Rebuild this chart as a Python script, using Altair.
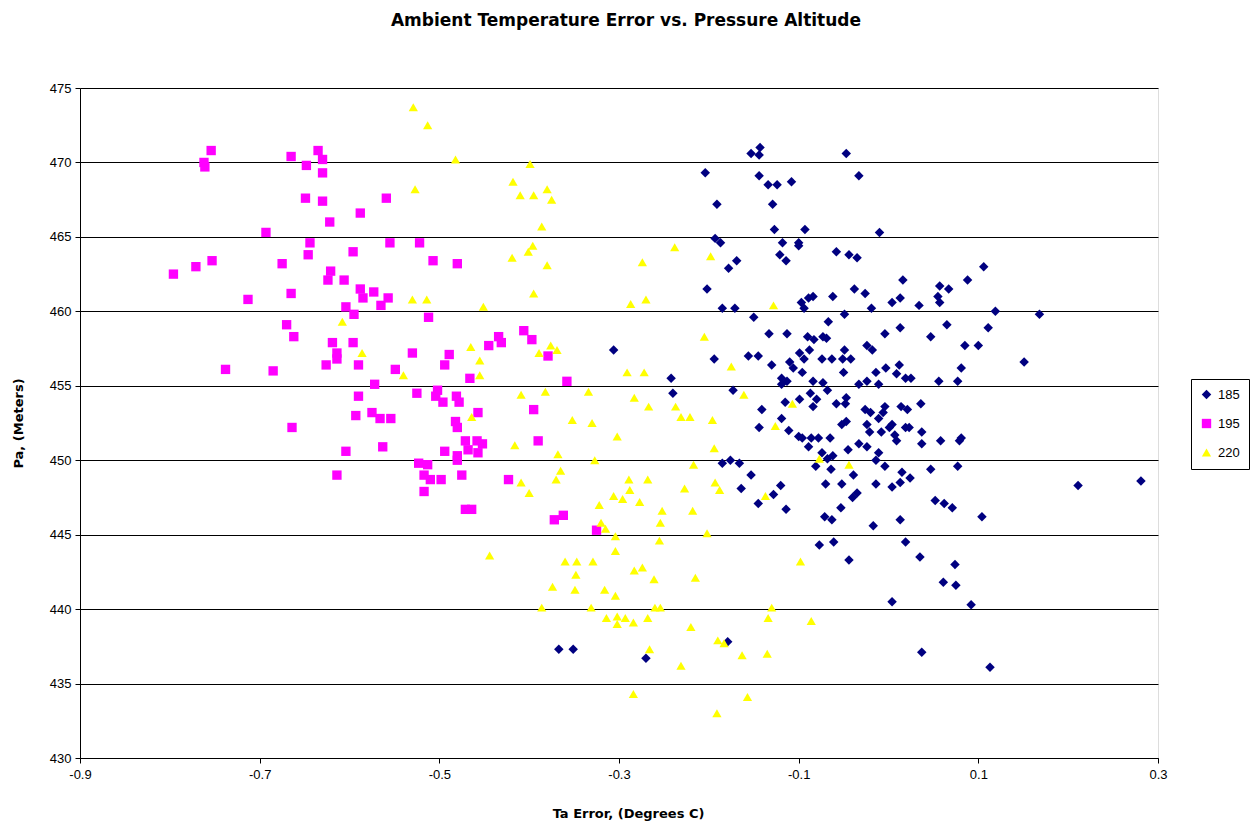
import altair as alt
import pandas as pd

# Series 185 (navy diamonds)
x185 = [-0.143, -0.153, -0.144, -0.047, -0.204, -0.144, -0.033, -0.134, -0.124, -0.108,
        -0.191, -0.129, -0.127, -0.093, -0.010, -0.193, -0.187, -0.118, -0.100, -0.100,
        -0.121, -0.114, -0.169, -0.178, -0.058, -0.044, -0.035, -0.202, -0.097, -0.089,
        -0.084, -0.062, -0.038, -0.026, -0.019, -0.185, -0.171, -0.094, 0.106, 0.016,
        0.088, 0.057, 0.067, 0.055, 0.057, 0.013, 0.004, 0.034, 0.119, 0.168,
        0.013, 0.065, 0.111, 0.047, 0.085, 0.100, 0.151, 0.012, 0.081, 0.009,
        0.019, 0.025, 0.056, 0.077, 0.036, 0.014, 0.021, 0.004, 0.019, 0.023,
        0.037, 0.007, 0.009, 0.037, 0.058, 0.081, 0.079, 0.077, 0.047, 0.015,
        0.024, 0.013, 0.004, 0.211, 0.281, 0.052, 0.062, 0.071, 0.013, 0.104,
        0.019, 0.035, 0.074, 0.061, 0.075, 0.004, 0.092, 0.037, 0.113, -0.077,
        -0.061, -0.044, -0.179, -0.270, -0.367, -0.351, -0.306, -0.150, -0.067, -0.049,
        -0.133, -0.113, -0.090, -0.083, -0.073, -0.069, -0.004, -0.024, -0.018, -0.049,
        -0.088, -0.099, -0.194, -0.156, -0.145, -0.130, -0.110, -0.106, -0.094, -0.074,
        -0.063, -0.051, -0.042, -0.096, -0.050, -0.014, -0.003, -0.242, -0.240, -0.119,
        -0.113, -0.119, -0.084, -0.073, -0.068, -0.033, -0.024, -0.011, -0.173, -0.087,
        -0.080, -0.084, -0.099, -0.115, -0.058, -0.047, -0.048, -0.026, -0.020, -0.004,
        -0.006, -0.011, -0.141, -0.119, -0.144, -0.111, -0.100, -0.096, -0.086, -0.078,
        -0.065, -0.089, -0.052, -0.047, -0.024, -0.021, -0.008, 0.001, -0.033, -0.024,
        -0.045, -0.074, -0.068, -0.062, -0.064, -0.081, -0.011, -0.014, -0.004, -0.039,
        -0.070, -0.052, -0.014, -0.035, -0.040, -0.053, -0.071, -0.063, -0.017, -0.185,
        -0.176, -0.166, -0.153, -0.164, -0.120, -0.128, -0.145, -0.114]
y185 = [471.0, 470.6, 470.5, 470.6, 469.3, 469.1, 469.1, 468.5, 468.5, 468.7,
        467.2, 467.2, 465.5, 465.5, 465.3, 464.9, 464.6, 464.6, 464.6, 464.4,
        463.8, 463.4, 463.4, 462.9, 464.0, 463.8, 463.6, 461.5, 460.6, 460.9,
        461.0, 461.0, 461.5, 461.2, 460.2, 460.2, 460.2, 460.2, 463.0, 462.1,
        462.1, 461.7, 461.5, 461.0, 460.6, 460.9, 460.6, 460.4, 460.0, 459.8,
        458.9, 459.1, 458.9, 458.3, 457.7, 457.7, 456.6, 456.4, 456.2, 455.8,
        455.5, 455.5, 455.3, 455.3, 453.8, 453.6, 453.4, 452.4, 452.2, 452.2,
        451.9, 451.7, 451.3, 451.1, 451.3, 451.5, 451.3, 449.6, 449.4, 449.2,
        448.8, 448.5, 448.2, 448.3, 448.6, 447.3, 447.1, 446.8, 446.0, 446.2,
        444.5, 443.5, 443.0, 441.8, 441.6, 440.5, 440.3, 437.1, 436.1, 444.3,
        444.5, 443.3, 437.8, 436.7, 437.3, 437.3, 457.4, 459.6, 459.3, 459.8,
        458.5, 458.5, 458.3, 458.1, 458.3, 458.2, 458.5, 457.7, 457.4, 457.4,
        457.4, 457.2, 456.8, 457.0, 457.0, 456.4, 456.6, 456.2, 456.8, 456.8,
        456.8, 456.8, 456.8, 455.9, 455.9, 455.9, 456.2, 455.5, 454.5, 455.5,
        455.3, 455.1, 455.3, 455.2, 454.7, 455.1, 455.3, 455.1, 454.7, 454.5,
        454.1, 453.6, 454.1, 453.9, 453.8, 454.2, 453.8, 453.4, 453.2, 453.6,
        453.2, 452.8, 453.4, 452.8, 452.2, 452.0, 451.6, 451.5, 451.5, 451.5,
        451.5, 450.9, 452.4, 452.6, 452.4, 451.9, 451.9, 452.2, 451.1, 450.9,
        450.7, 450.5, 450.1, 450.3, 449.4, 449.6, 450.5, 450.0, 449.6, 449.0,
        448.4, 448.4, 448.4, 447.8, 447.5, 446.8, 446.2, 446.0, 445.6, 449.8,
        450.0, 449.8, 449.0, 448.1, 448.3, 447.7, 447.1, 446.7]

# Series 195 (magenta squares)
x195 = [-0.754, -0.762, -0.761, -0.665, -0.635, -0.630, -0.648, -0.630, -0.649, -0.630,
        -0.622, -0.693, -0.644, -0.646, -0.596, -0.753, -0.771, -0.796, -0.675, -0.621,
        -0.624, -0.606, -0.665, -0.713, -0.604, -0.559, -0.588, -0.555, -0.522, -0.507,
        -0.480, -0.588, -0.573, -0.585, -0.557, -0.565, -0.595, -0.512, -0.596, -0.530,
        -0.489, -0.494, -0.590, -0.549, -0.445, -0.434, -0.431, -0.406, -0.397, -0.379,
        -0.466, -0.358, -0.572, -0.590, -0.525, -0.502, -0.504, -0.496, -0.481, -0.478,
        -0.457, -0.575, -0.566, -0.554, -0.593, -0.482, -0.480, -0.395, -0.604, -0.563,
        -0.471, -0.458, -0.452, -0.468, -0.457, -0.494, -0.480, -0.480, -0.390, -0.523,
        -0.513, -0.517, -0.510, -0.498, -0.475, -0.423, -0.517, -0.471, -0.464, -0.372,
        -0.362, -0.325, -0.670, -0.662, -0.619, -0.614, -0.614, -0.626, -0.738, -0.685,
        -0.664, -0.614]
y195 = [470.8, 470.0, 469.7, 470.4, 470.8, 470.2, 469.8, 469.3, 467.6, 467.4,
        466.0, 465.3, 464.6, 463.8, 464.0, 463.4, 463.0, 462.5, 463.2, 462.7,
        462.1, 462.1, 461.2, 460.8, 460.3, 467.6, 466.6, 464.6, 464.6, 463.4,
        463.2, 461.5, 461.3, 460.9, 460.9, 460.4, 459.8, 459.6, 457.9, 457.2,
        457.1, 456.4, 456.4, 456.1, 457.7, 458.3, 457.9, 458.7, 458.1, 457.0,
        455.5, 455.3, 455.1, 454.3, 454.5, 454.7, 454.3, 453.9, 454.3, 453.9,
        453.2, 453.2, 452.8, 452.8, 453.0, 452.6, 452.2, 453.4, 450.6, 450.9,
        451.3, 451.3, 451.1, 450.7, 450.5, 450.6, 450.3, 450.0, 451.3, 449.8,
        449.7, 449.0, 448.7, 448.7, 449.0, 448.7, 447.9, 446.7, 446.7, 446.0,
        446.3, 445.3, 459.1, 458.3, 457.9, 457.2, 456.8, 456.4, 456.1, 456.0,
        452.2, 449.0]

# Series 220 (yellow triangles)
x220 = [-0.529, -0.513, -0.482, -0.399, -0.527, -0.418, -0.410, -0.395, -0.380, -0.375,
        -0.386, -0.396, -0.401, -0.419, -0.380, -0.395, -0.530, -0.514, -0.451, -0.238,
        -0.274, -0.198, -0.287, -0.270, -0.128, -0.608, -0.586, -0.540, -0.465, -0.455,
        -0.455, -0.389, -0.376, -0.369, -0.409, -0.382, -0.334, -0.464, -0.352, -0.330,
        -0.302, -0.416, -0.368, -0.327, -0.365, -0.370, -0.409, -0.400, -0.306, -0.322,
        -0.320, -0.315, -0.205, -0.175, -0.291, -0.272, -0.283, -0.267, -0.237, -0.231,
        -0.221, -0.196, -0.161, -0.107, -0.126, -0.194, -0.217, -0.077, -0.044, -0.289,
        -0.268, -0.288, -0.227, -0.193, -0.188, -0.296, -0.277, -0.137, -0.252, -0.218,
        -0.254, -0.202, -0.444, -0.360, -0.347, -0.329, -0.348, -0.374, -0.349, -0.316,
        -0.304, -0.304, -0.304, -0.386, -0.331, -0.314, -0.302, -0.302, -0.255, -0.283,
        -0.274, -0.261, -0.215, -0.098, -0.260, -0.254, -0.130, -0.134, -0.293, -0.284,
        -0.268, -0.220, -0.086, -0.190, -0.183, -0.266, -0.163, -0.135, -0.231, -0.284,
        -0.157, -0.191]
y220 = [473.7, 472.5, 470.2, 469.9, 468.2, 468.7, 467.8, 467.8, 468.2, 467.5,
        465.7, 464.4, 464.0, 463.6, 463.1, 461.2, 460.8, 460.8, 460.3, 464.3,
        463.3, 463.7, 460.5, 460.8, 460.4, 459.3, 457.2, 455.7, 457.6, 456.7,
        455.7, 457.2, 457.7, 457.4, 454.4, 454.6, 454.6, 452.9, 452.7, 452.5,
        451.6, 451.0, 450.4, 450.0, 449.3, 448.7, 448.5, 447.8, 447.6, 447.0,
        445.8, 445.4, 458.3, 456.3, 455.9, 455.9, 454.2, 453.6, 453.6, 452.9,
        452.9, 452.7, 454.4, 453.8, 452.3, 450.8, 449.7, 450.1, 449.7, 448.7,
        448.7, 448.0, 448.1, 448.5, 448.0, 447.4, 447.2, 447.6, 446.6, 446.6,
        445.8, 445.1, 443.6, 443.2, 443.2, 443.2, 442.3, 441.5, 441.3, 441.3,
        440.9, 443.9, 444.9, 440.1, 440.1, 439.4, 439.5, 439.0, 444.6, 442.6,
        442.8, 442.0, 442.1, 443.2, 440.1, 440.1, 440.1, 439.4, 439.4, 439.1,
        439.4, 438.8, 439.2, 437.9, 437.7, 437.3, 436.9, 437.0, 436.2, 434.3,
        434.1, 433.0]

series_names = ["185", "195", "220"]
series_colors = ["#000080", "#FF00FF", "#FFFF00"]
series_shapes = ["diamond", "square", "triangle-up"]
series_sizes = [90, 85, 110]

x_ticks = [-0.9, -0.7, -0.5, -0.3, -0.1, 0.1, 0.3]
y_ticks = [430, 435, 440, 445, 450, 455, 460, 465, 470, 475]

frames = []
for name, xs, ys in zip(series_names, [x185, x195, x220], [y185, y195, y220]):
    frames.append(pd.DataFrame({"ta": xs, "pa": ys, "series": name}))
df = pd.concat(frames, ignore_index=True)
df["idx"] = range(len(df))

FONT = "Liberation Sans"
TFONT = "DejaVu Sans"

legend = alt.Legend(
    title=None, orient="none", legendX=1111, legendY=291,
    fillColor="white", strokeColor="black", padding=9,
    labelFont=FONT, labelFontSize=13, labelColor="black", labelOffset=5,
    symbolSize=50, rowPadding=15, symbolStrokeWidth=0,
)

chart = alt.Chart(df).mark_point(filled=True, opacity=1, strokeWidth=0).encode(
    x=alt.X("ta:Q",
            scale=alt.Scale(domain=[-0.9, 0.3], nice=False, zero=False),
            axis=alt.Axis(values=x_ticks, grid=False,
                          labelExpr="datum.value < 0 ? '-' + format(abs(datum.value), '.1f') : format(datum.value, '.1f')",
                          title="Ta Error, (Degrees  C)",
                          titleX=548, titleY=55, titleAlign="center", titleBaseline="middle",
                          titleFont=TFONT, titleFontSize=13, titleFontWeight="bold", titleColor="black",
                          labelFont=FONT, labelFontSize=13, labelColor="black", labelPadding=5,
                          tickColor="black", tickSize=5, domainColor="black",
                          labelFlush=False, labelOverlap=False)),
    y=alt.Y("pa:Q",
            scale=alt.Scale(domain=[430, 475], nice=False, zero=False),
            axis=alt.Axis(values=y_ticks, grid=True, gridColor="black", gridOpacity=1, gridWidth=1,
                          title="Pa, (Meters)",
                          titleX=-62, titleY=335, titleAngle=270, titleAlign="center", titleBaseline="middle",
                          titleFont=TFONT, titleFontSize=13, titleFontWeight="bold", titleColor="black",
                          labelFont=FONT, labelFontSize=13, labelColor="black", labelPadding=4,
                          tickColor="black", tickSize=5, domainColor="black",
                          labelOverlap=False)),
    color=alt.Color("series:N", scale=alt.Scale(domain=series_names, range=series_colors), legend=legend),
    shape=alt.Shape("series:N", scale=alt.Scale(domain=series_names, range=series_shapes), legend=legend),
    size=alt.Size("series:N", scale=alt.Scale(domain=series_names, range=series_sizes), legend=None),
    order=alt.Order("idx:Q"),
).properties(
    width=1078, height=670,
    title=alt.TitleParams("Ambient Temperature Error vs. Pressure Altitude",
                          font=TFONT, fontSize=17, fontWeight="bold", color="black",
                          anchor="middle", frame="group", offset=52, dx=7),
    autosize=alt.AutoSizeParams(type="none"),
    padding={"left": 80, "top": 88, "right": 94, "bottom": 67},
).configure_view(
    fill="#C0C0C0", stroke="#808080", strokeWidth=1
).configure(background="white")

chart.save("out.html", embed_options={"renderer": "svg", "actions": False})
